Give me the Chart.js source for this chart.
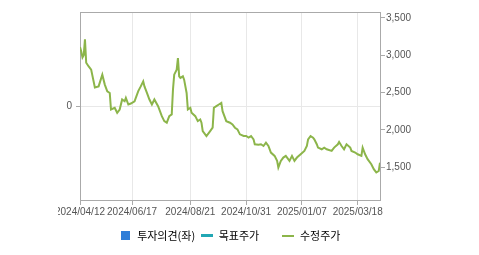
<!DOCTYPE html>
<html>
<head>
<meta charset="utf-8">
<script src="https://cdn.jsdelivr.net/npm/chart.js@4/dist/chart.umd.min.js"></script>
<style>
  html, body { margin: 0; padding: 0; background: #fff; }
  #wrap { width: 479px; height: 255px; }
</style>
</head>
<body>
<div id="wrap"><canvas id="chart"></canvas></div>
<script>
// series names, as in the legend
const seriesNames = ['투자의견(좌)', '목표주가', '수정주가'];

// x axis: trading day index, labels shown at these days
const tickDays = [0, 42, 89, 134, 179, 224];
const tickLabels = ['2024/04/12', '2024/06/17', '2024/08/21', '2024/10/31', '2025/01/07', '2025/03/18'];
const lastDay = 242;

// right axis ticks (수정주가)
const priceTicks = [1500, 2000, 2500, 3000, 3500];

// 수정주가
const days = [0, 1, 2, 3, 4, 5, 7, 9, 12, 15, 18, 20, 22, 24, 25, 28, 30, 32, 34, 36,
  37, 39, 41, 44, 47, 49, 51, 52, 54, 56, 58, 60, 63, 66, 68, 70, 72, 74, 75, 76,
  78, 79, 80, 81, 83, 84, 86, 87, 89, 90, 93, 95, 97, 98, 99, 102, 105, 107, 108, 110,
  112, 114, 115, 118, 121, 123, 125, 127, 129, 132, 134, 136, 138, 140, 141, 144, 146, 148, 150, 152,
  154, 157, 159, 160, 162, 164, 166, 169, 171, 173, 175, 178, 181, 183, 184, 186, 188, 189, 191, 192,
  195, 197, 199, 203, 205, 208, 209, 211, 213, 215, 218, 219, 222, 224, 227, 228, 230, 232, 235, 237,
  239, 241, 242];
const prices = [3110, 3050, 2970, 3000, 3215, 2900, 2850, 2807, 2567, 2583, 2740, 2607, 2517, 2495, 2273, 2296, 2229, 2273, 2407, 2384,
  2429, 2340, 2353, 2384, 2520, 2583, 2650, 2583, 2495, 2407, 2340, 2407, 2318, 2184, 2117, 2096, 2184, 2207, 2540, 2740,
  2807, 2962, 2718, 2696, 2718, 2673, 2495, 2273, 2296, 2229, 2184, 2117, 2140, 2096, 1984, 1918, 1984, 2029, 2296, 2318,
  2340, 2362, 2251, 2117, 2096, 2073, 2029, 2007, 1940, 1918, 1918, 1896, 1918, 1873, 1807, 1800, 1807, 1784, 1829, 1784,
  1696, 1651, 1584, 1496, 1584, 1629, 1651, 1584, 1651, 1584, 1629, 1673, 1718, 1784, 1873, 1918, 1896, 1873, 1807, 1762,
  1740, 1762, 1740, 1718, 1762, 1807, 1838, 1784, 1740, 1807, 1762, 1718, 1696, 1673, 1651, 1762, 1673, 1607, 1540, 1473,
  1429, 1451, 1560];

const colors = ['#2f7ed8', '#22a7b4', '#8cb54a'];
const axisColor = '#aaaaaa';
const gridColor = '#e8e8e8';
const tickFont = { family: '"Liberation Sans", Arial, sans-serif', size: 10 };

function marker(w, h, color) {
  const c = document.createElement('canvas');
  c.width = w; c.height = h;
  const g = c.getContext('2d');
  g.fillStyle = color;
  g.fillRect(0, 0, w, h);
  return c;
}
const markers = [marker(9, 9, colors[0]), marker(12, 3, colors[1]), marker(12, 2, colors[2])];

// top border of the plot + clip of the first date label
const framePlugin = {
  id: 'frame',
  beforeDatasetsDraw(chart) {
    const { ctx, chartArea } = chart;
    ctx.save();
    ctx.strokeStyle = axisColor;
    ctx.lineWidth = 1;
    ctx.beginPath();
    ctx.moveTo(chartArea.left, chartArea.top + 0.5);
    ctx.lineTo(chartArea.right, chartArea.top + 0.5);
    ctx.stroke();
    ctx.restore();
  },
  afterDraw(chart) {
    const { ctx, chartArea } = chart;
    ctx.save();
    ctx.fillStyle = '#fff';
    ctx.fillRect(0, chartArea.bottom + 2, 58, 20);
    ctx.restore();
  }
};

new Chart(document.getElementById('chart'), {
  data: {
    datasets: [
      { type: 'bar', label: seriesNames[0], data: [], backgroundColor: colors[0], xAxisID: 'x', yAxisID: 'yL' },
      { type: 'line', label: seriesNames[1], data: [], borderColor: colors[1], xAxisID: 'x', yAxisID: 'yR' },
      {
        type: 'line', label: seriesNames[2],
        data: days.map((d, i) => ({ x: d, y: prices[i] })),
        borderColor: colors[2], borderWidth: 2, pointRadius: 0, tension: 0,
        xAxisID: 'x', yAxisID: 'yR'
      }
    ]
  },
  options: {
    responsive: true,
    maintainAspectRatio: false,
    animation: false,
    layout: { padding: { top: 12, left: 0, right: 0, bottom: 4 } },
    plugins: {
      tooltip: { enabled: false },
      legend: {
        position: 'bottom',
        fullSize: false,
        labels: {
          usePointStyle: true,
          pointStyleWidth: 12,
          boxHeight: 11,
          padding: 6,
          color: '#444',
          font: { family: '"Noto Sans CJK KR", sans-serif', size: 11 },
          generateLabels: chart => seriesNames.map((name, i) => ({
            text: i === 1 ? name + '       ' : name,
            pointStyle: markers[i],
            fillStyle: colors[i],
            strokeStyle: colors[i],
            lineWidth: 0,
            hidden: false,
            datasetIndex: i
          }))
        }
      }
    },
    scales: {
      x: {
        type: 'linear',
        offset: false,
        min: 0,
        max: lastDay,
        afterBuildTicks: s => { s.ticks = tickDays.map(v => ({ value: v })); },
        afterFit: s => { s.height = 24; },
        grid: { offset: false, color: gridColor, tickColor: axisColor, tickLength: 5 },
        border: { color: axisColor },
        ticks: {
          autoSkip: false, maxRotation: 0, padding: 1, color: '#555', font: tickFont,
          callback: v => tickLabels[tickDays.indexOf(v)]
        }
      },
      yL: {
        position: 'left',
        min: -1,
        max: 1,
        afterBuildTicks: s => { s.ticks = [{ value: 0 }]; },
        afterFit: s => { s.width = 80; },
        grid: { color: gridColor, tickColor: axisColor, tickLength: 4 },
        border: { color: axisColor },
        ticks: { padding: 4, color: '#555', font: tickFont }
      },
      yR: {
        position: 'right',
        min: 1060,
        max: 3580,
        afterBuildTicks: s => { s.ticks = priceTicks.map(v => ({ value: v })); },
        afterFit: s => { s.width = 99; },
        grid: { drawOnChartArea: false, tickColor: axisColor, tickLength: 5 },
        border: { color: axisColor },
        ticks: { padding: 1, color: '#555', font: tickFont, callback: v => v.toLocaleString('en-US') }
      }
    }
  },
  plugins: [framePlugin]
});
</script>
</body>
</html>
